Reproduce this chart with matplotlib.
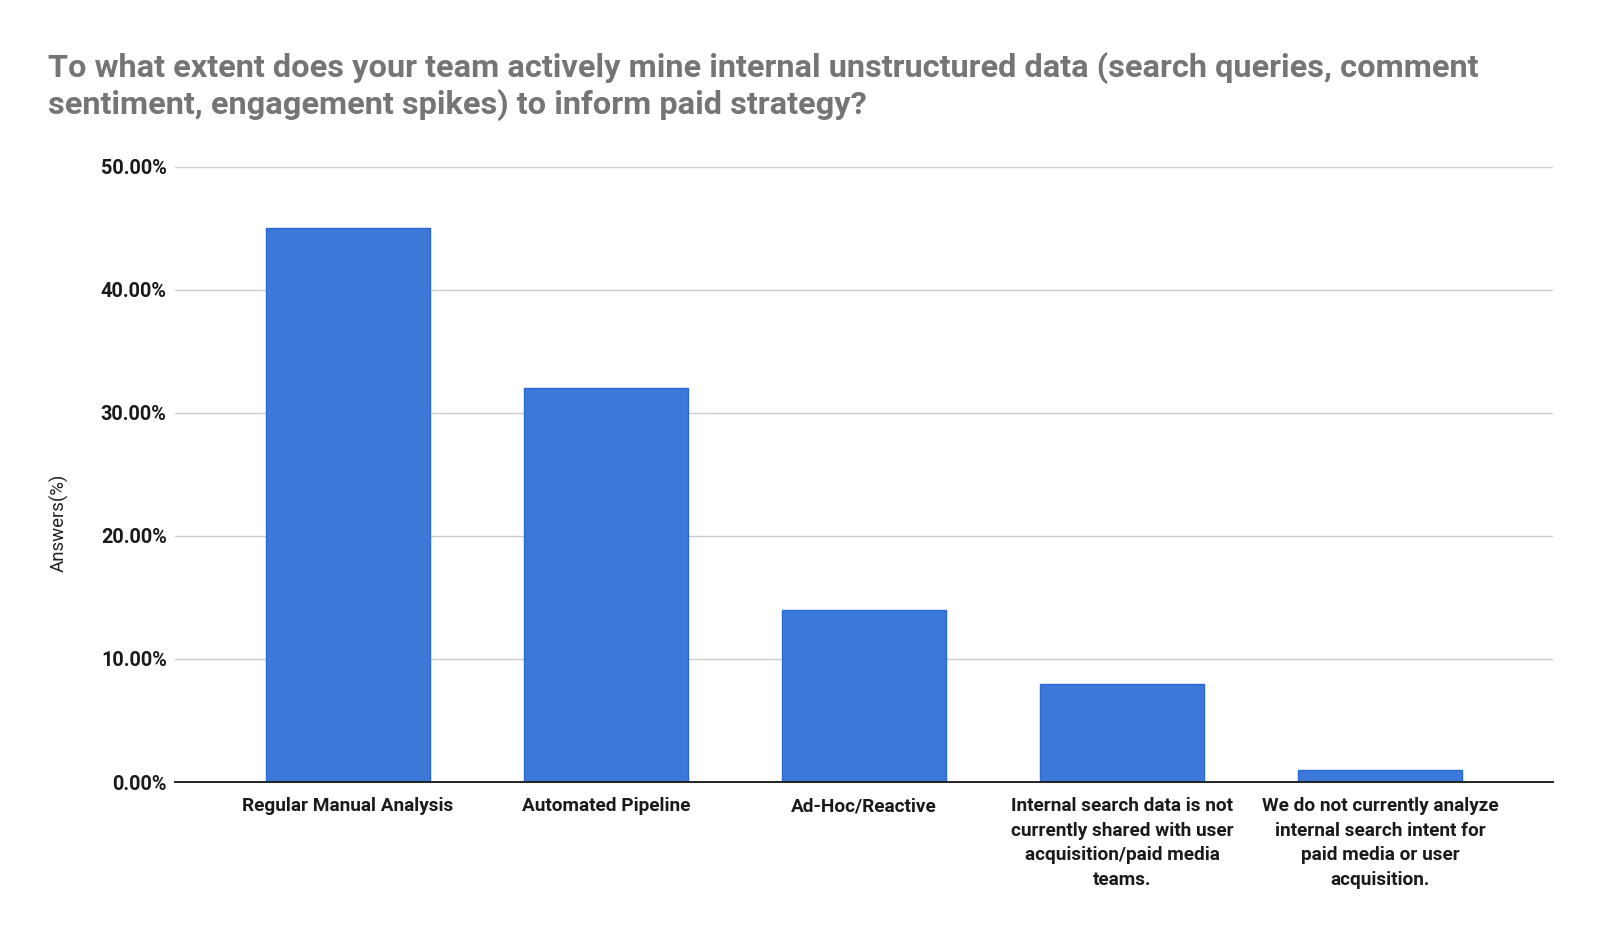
import matplotlib
matplotlib.use("Agg")
import matplotlib.pyplot as plt
from matplotlib.ticker import FuncFormatter, MultipleLocator

# survey answers
categories = [
    "Regular Manual Analysis",
    "Automated Pipeline",
    "Ad-Hoc/Reactive",
    "Internal search data is not\ncurrently shared with user\nacquisition/paid media\nteams.",
    "We do not currently analyze\ninternal search intent for\npaid media or user\nacquisition.",
]
answers_pct = [45, 32, 14, 8, 1]

title = ("To what extent does your team actively mine internal unstructured data (search queries, comment\n"
         "sentiment, engagement spikes) to inform paid strategy?")

plt.rcParams["font.family"] = ["Roboto", "DejaVu Sans"]

fig = plt.figure(figsize=(16, 9.35), dpi=100)
ax = fig.add_axes([0.1094, 0.1636, 0.8612, 0.6583])

x = list(range(len(categories)))
ax.bar(x, answers_pct, width=0.635, color="#3c78d8", edgecolor="#2a6ad6", linewidth=1, zorder=3)

ax.set_xlim(-0.67, len(categories) - 0.33)
ax.set_ylim(0, 50)
ax.yaxis.set_major_locator(MultipleLocator(10))
ax.yaxis.set_major_formatter(FuncFormatter(lambda v, _: f"{v:.2f}%"))

ax.grid(axis="y", color="#cccccc", linewidth=1, zorder=0)
for s in ["top", "right", "left"]:
    ax.spines[s].set_visible(False)
ax.spines["bottom"].set_color("#222222")
ax.spines["bottom"].set_linewidth(1.4)
ax.spines["bottom"].set_zorder(4)

ax.set_xticks(x)
ax.set_xticklabels(categories, fontsize=13.7, fontweight="bold", color="#1a1a1a", linespacing=1.47, va="top")
ax.tick_params(axis="x", length=0, pad=11)
ax.tick_params(axis="y", length=0, pad=6, labelsize=14.3, labelcolor="#1a1a1a")
for lab in ax.get_yticklabels():
    lab.set_fontweight("bold")

ax.set_ylabel("Answers(%)", fontsize=13.4, color="#222222")
# label sits a bit below the axes middle in the original
ax.yaxis.set_label_coords(-0.077, 0.421)

fig.text(0.03, 1 - 52 / 935, title, fontsize=23.4, fontweight="bold", color="#757575",
         va="top", ha="left", linespacing=1.22)

fig.savefig("out.png", dpi=100, facecolor="white")
